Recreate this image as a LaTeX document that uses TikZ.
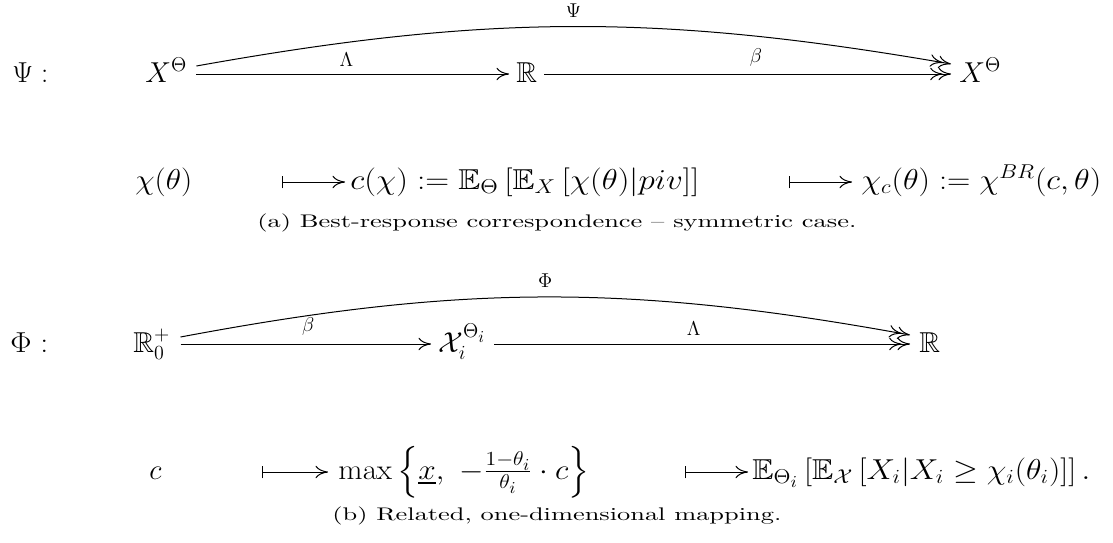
\documentclass[tikz,border=0pt]{standalone}
\usepackage{amsmath,amssymb}
\usepackage{graphicx}
\usetikzlibrary{arrows.meta,calc}
\newlength\pxu \setlength\pxu{0.6pt}
\newcommand\fw[2]{\resizebox{#1\pxu}{\height}{#2}}
\newcommand\dgfont{\fontsize{17.28}{20}\selectfont}
\newcommand\capfont{\fontsize{10.95}{13}\selectfont}
\newcommand\lblfont{\fontsize{12}{14}\selectfont}
\tikzset{
  obj/.style={anchor=base west, inner sep=0pt, font=\dgfont},
  captxt/.style={anchor=base west, inner sep=0pt, font=\capfont},
  lbl/.style={inner sep=0pt, font=\lblfont},
  arr/.style={line width=0.6pt, -{Computer Modern Rightarrow[length=7.5pt,width=7.5pt]}},
  arrr/.style={line width=0.6pt, -{Computer Modern Rightarrow[length=7.5pt,width=7.5pt,sep=-2.5pt]Computer Modern Rightarrow[length=7.5pt,width=7.5pt]}},
  mapto/.style={line width=0.6pt, {Bar[width=7.5pt]}-{Computer Modern Rightarrow[length=7.5pt,width=7.5pt]}}
}
\begin{document}
\begin{tikzpicture}[x=0.6pt,y=-0.6pt]
\useasboundingbox (0,0) rectangle (1113,542);
% ---- diagram (a)
\node[obj] (psiL) at (12,82) {\fw{36}{$\Psi:$}};
\node[obj] (X1) at (145,82) {$X^{\Theta}$};
\node[obj] (R1) at (516,82) {$\mathbb{R}$};
\node[obj] (X2) at (959,82) {$X^{\Theta}$};
\draw[arr] ($(X1.base east)+(9,-8)$) -- node[lbl, pos=0.48, above=4.2pt] {$\Lambda$} ($(R1.base west)+(-7,-8)$);
\draw[arrr] ($(R1.base east)+(7,-8)$) -- node[lbl, pos=0.52, above=4.2pt] {$\beta$} ($(X2.base west)+(-8,-8)$);
\draw[arrr] ($(X1.base east)+(9,-16)$) to[bend left=10] node[lbl, pos=0.5, above=5.4pt] {$\Psi$} ($(X2.base west)+(-8,-18)$);
\node[obj] (a1) at (135,189) {\fw{57}{$\chi(\theta)$}};
\node[obj] (a2) at (350,189) {\fw{349}{$c(\chi):=\mathbb{E}_{\Theta}\left[\mathbb{E}_{X}\left[\chi(\theta)|piv\right]\right]$}};
\node[obj] (a3) at (861,189) {\fw{240}{$\chi_c(\theta):=\chi^{BR}(c,\theta)$}};
\draw[mapto] ($(a1.base east)+(89,-7)$) -- ($(a2.base west)+(-5,-7)$);
\draw[mapto] ($(a2.base east)+(89,-7)$) -- ($(a3.base west)+(-9,-7)$);
\node[captxt] (capA) at (257,227) {\fw{599}{(a) Best-response correspondence -- symmetric case.}};
% ---- diagram (b)
\node[obj] (phiL) at (10,352) {\fw{38}{$\Phi:$}};
\node[obj] (R0) at (133,352) {$\mathbb{R}_0^+$};
\node[obj] (Xi) at (438,352) {$\mathcal{X}_i^{\Theta_i}$};
\node[obj] (R2) at (919,352) {$\mathbb{R}$};
\draw[arr] ($(R0.base east)+(10,-8)$) -- node[lbl, pos=0.51, above=4.8pt] {$\beta$} ($(Xi.base west)+(-7,-8)$);
\draw[arrr] ($(Xi.base east)+(8,-8)$) -- node[lbl, pos=0.48, above=4.8pt] {$\Lambda$} ($(R2.base west)+(-9,-8)$);
\draw[arrr] ($(R0.base east)+(10,-15)$) to[bend left=10.5] node[lbl, pos=0.5, above=5.4pt] {$\Phi$} ($(R2.base west)+(-9,-17)$);
\node[obj] (b1) at (149,479) {$c$};
\node[obj] (b2) at (338,479) {\fw{251}{$\max\left\{\underline{x},\ -\frac{1-\theta_i}{\theta_i}\cdot c\right\}$}};
\node[obj] (b3) at (752,479) {\fw{338}{$\mathbb{E}_{\Theta_i}\left[\mathbb{E}_{\mathcal{X}}\left[X_i|X_i\geq\chi_i(\theta_i)\right]\right].$}};
\draw[mapto] ($(b1.base east)+(100,-7)$) -- ($(b2.base west)+(-10,-7)$);
\draw[mapto] ($(b2.base east)+(95,-7)$) -- ($(b3.base west)+(-4,-7)$);
\node[captxt] (capB) at (332,520) {\fw{449}{(b) Related, one-dimensional mapping.}};
\end{tikzpicture}
\end{document}
